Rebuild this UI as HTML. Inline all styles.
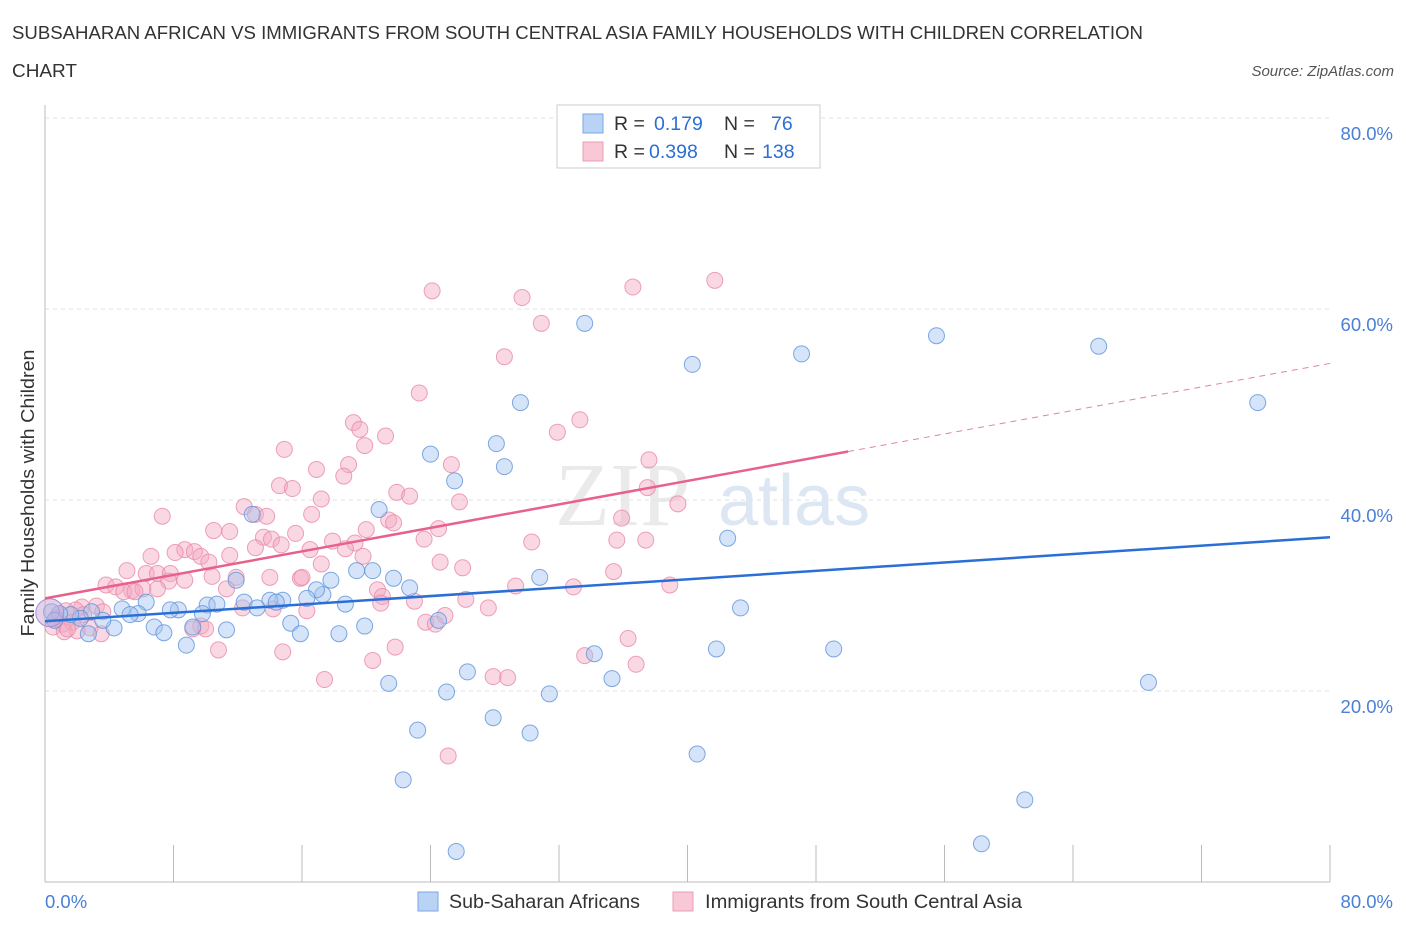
<!DOCTYPE html>
<html><head><meta charset="utf-8"><style>
body{margin:0;background:#fff;font-family:"Liberation Sans",sans-serif;}
</style></head><body>
<svg id="chart" width="1406" height="930" xmlns="http://www.w3.org/2000/svg" style="font-family:'Liberation Sans',sans-serif">
<text x="12" y="39" font-size="18.5" fill="#333" textLength="1131" lengthAdjust="spacingAndGlyphs">SUBSAHARAN AFRICAN VS IMMIGRANTS FROM SOUTH CENTRAL ASIA FAMILY HOUSEHOLDS WITH CHILDREN CORRELATION</text>
<text x="12" y="77" font-size="18.5" fill="#333" textLength="65" lengthAdjust="spacingAndGlyphs">CHART</text>
<text x="1394" y="76" font-size="15" fill="#555" font-style="italic" text-anchor="end">Source: ZipAtlas.com</text>
<text x="555" y="525" font-size="90" fill="#ddd" font-family="Liberation Serif" opacity="0.6">ZIP</text>
<text x="718" y="525" font-size="72" fill="#c7d8ee" opacity="0.6">atlas</text>
<g id="grid"></g>
<g id="pts"></g>
<g id="lines"></g>
<text transform="translate(34,493) rotate(-90)" font-size="18" fill="#333" text-anchor="middle" textLength="287" lengthAdjust="spacingAndGlyphs">Family Households with Children</text>
<text x="45" y="908" font-size="18.5" fill="#4a7fd6">0.0%</text>
<text x="1393" y="908" font-size="18.5" fill="#4a7fd6" text-anchor="end">80.0%</text>
<g>
<rect x="557" y="105" width="263" height="63" fill="#fff" stroke="#ccc"/>
<rect x="583" y="114" width="20" height="19" fill="#b9d3f5" stroke="#7aa6e6"/>
<rect x="583" y="142" width="20" height="19" fill="#f9c8d6" stroke="#ea9cb6"/>
<text x="614" y="130" font-size="19.5" fill="#333">R = </text><text x="654" y="130" font-size="19.5" fill="#2a6fd6">0.179</text>
<text x="724" y="130" font-size="19.5" fill="#333">N = </text><text x="771" y="130" font-size="19.5" fill="#2a6fd6">76</text>
<text x="614" y="158" font-size="19.5" fill="#333">R = </text><text x="649" y="158" font-size="19.5" fill="#2a6fd6">0.398</text>
<text x="724" y="158" font-size="19.5" fill="#333">N = </text><text x="762" y="158" font-size="19.5" fill="#2a6fd6">138</text>
</g>
<g>
<rect x="418" y="892" width="20" height="19" fill="#b9d3f5" stroke="#7aa6e6"/>
<text x="449" y="908" font-size="19" fill="#333" textLength="191" lengthAdjust="spacingAndGlyphs">Sub-Saharan Africans</text>
<rect x="673" y="892" width="20" height="19" fill="#f9c8d6" stroke="#ea9cb6"/>
<text x="705" y="908" font-size="19" fill="#333" textLength="317" lengthAdjust="spacingAndGlyphs">Immigrants from South Central Asia</text>
</g>
</svg>
<script>
const yTicks=[20,40,60,80];
const blueX=[33.6,55.5,65.6,47.1,40.3,75.5,29.6,28.1,24.0,28.6,25.5,20.8,12.9,42.5,30.8,22.7,21.7,20.4,19.4,17.8,17.3,16.9,16.3,14.8,14.0,14.4,11.9,12.4,13.2,18.7,10.1,10.7,9.8,8.3,7.8,6.3,4.8,5.8,5.3,6.8,7.4,4.3,3.6,2.9,2.7,2.2,1.6,0.9,0.4,0.6,9.2,11.3,15.3,15.9,18.3,19.9,24.5,43.3,8.8,34.2,41.8,49.1,68.7,35.3,26.3,21.4,25.0,31.4,23.2,27.9,30.2,40.6,22.3,61.0,58.3,25.6];
const blueY=[58.5,57.2,56.1,55.3,54.2,50.2,50.2,45.9,44.8,43.5,42.0,39.0,38.5,36.0,31.9,30.8,31.8,32.6,32.6,31.6,30.1,30.6,29.7,29.5,29.5,29.3,31.6,29.3,28.7,29.1,29.0,29.1,28.1,28.5,28.5,29.3,28.6,28.1,28.0,26.7,26.1,26.6,27.4,28.3,26.0,27.6,28.0,28.1,28.3,27.4,26.7,26.4,27.1,26.0,26.0,26.8,27.4,28.7,24.8,23.9,24.4,24.4,20.9,21.3,22.0,20.8,19.9,19.7,15.9,17.2,15.6,13.4,10.7,8.6,4.0,3.2];
const pinkX=[41.7,36.6,24.1,29.7,30.9,28.6,23.3,33.3,19.2,19.6,31.9,21.2,19.9,14.9,37.6,25.3,18.9,16.9,18.6,14.6,15.4,21.9,37.5,22.7,25.8,17.2,39.4,12.4,13.1,13.8,7.3,21.4,21.7,35.9,16.6,24.5,11.5,10.5,15.6,20.0,17.9,19.3,13.6,14.1,14.7,13.1,16.5,18.7,23.6,30.3,35.6,37.4,8.7,8.1,9.3,9.7,11.5,10.2,6.6,17.2,19.8,24.6,5.1,6.3,7.0,7.8,11.9,14.0,15.9,16.0,26.0,35.4,8.7,7.7,10.4,3.8,4.4,5.4,6.1,7.0,4.9,5.6,11.3,20.7,21.0,29.3,32.9,38.9,26.2,23.0,20.9,27.6,3.2,2.3,3.6,1.9,1.3,2.4,12.3,14.2,16.3,24.9,23.7,24.3,0.7,1.1,1.7,2.8,0.5,9.7,9.2,10.0,2.0,3.5,1.2,1.4,36.3,10.8,21.8,14.8,33.6,20.4,36.8,27.9,28.8,17.4,25.1];
const pinkY=[63.0,62.3,61.9,61.2,58.5,55.0,51.2,48.4,48.1,47.4,47.1,46.7,45.7,45.3,44.2,43.7,43.7,43.2,42.5,41.5,41.2,40.8,41.3,40.4,39.8,40.1,39.6,39.3,38.5,38.3,38.3,37.9,37.6,38.1,38.5,37.0,36.7,36.8,36.5,36.9,35.7,35.5,36.1,35.9,35.3,35.0,34.8,34.9,35.9,35.6,35.8,35.8,34.8,34.5,34.6,34.1,34.2,33.5,34.1,33.3,34.1,33.5,32.6,32.3,32.3,32.3,31.9,31.9,31.8,31.9,32.9,32.5,31.6,31.5,32.0,31.1,30.9,30.5,30.7,30.7,30.4,30.4,30.7,30.6,29.9,31.0,30.9,31.1,29.6,29.4,29.2,28.7,28.9,28.8,28.3,28.5,28.4,28.0,28.7,28.6,28.4,27.9,27.2,27.0,27.6,27.0,27.2,26.6,26.7,26.8,26.5,26.5,26.3,26.0,26.2,26.5,25.5,24.3,24.6,24.1,23.7,23.2,22.8,21.5,21.4,21.2,13.2];
const blueTrend=[27.3,36.1];
const pinkTrend=[29.7,54.3];
const NS="http://www.w3.org/2000/svg";
const X=v=>45+v*(1285/80), Y=v=>882-v*(764/80);
function mk(t,a,p){const e=document.createElementNS(NS,t);for(const k in a)e.setAttribute(k,a[k]);p.appendChild(e);return e;}
const grid=document.getElementById('grid');
yTicks.forEach(t=>{
 const l=mk('line',{x1:45,x2:1330,y1:Y(t),y2:Y(t),stroke:'#e2e2e2','stroke-dasharray':'4,4'},grid);
 
 
 const tx=mk('text',{x:1393,y:Y(t)+22,'font-size':18.5,fill:'#4a7fd6','text-anchor':'end'},grid);
 tx.textContent=t.toFixed(1)+'%';
 
 
});
mk('line',{x1:45,x2:45,y1:105,y2:882,stroke:'#bbb'},grid);
mk('line',{x1:45,x2:1330,y1:882,y2:882,stroke:'#bbb'},grid);
for(let i=0;i<=10;i++){const l=mk('line',{x1:X(i*8),x2:X(i*8),y1:845,y2:882,stroke:'#bbb'},grid);
 
 }
const pts=document.getElementById('pts');
function dots(xs,ys,fill,stroke,name){xs.forEach((x,i)=>{
 const c=mk('circle',{cx:X(x),cy:Y(ys[i]),r:8,fill:fill,'fill-opacity':0.45,stroke:stroke,'stroke-opacity':0.8,'stroke-width':1},pts);
 
 });}
dots(pinkX,pinkY,'#f4a9c0','#e889a8','pink-point');
dots(blueX,blueY,'#a2c3ef','#5f93dc','blue-point');
const big=mk('circle',{cx:X(0.3),cy:Y(28.2),r:14,fill:'#c6a8d8','fill-opacity':0.5,stroke:'#a58fd0'},pts);


const lines=document.getElementById('lines');
const bl=mk('line',{x1:X(0),y1:Y(blueTrend[0]),x2:X(80),y2:Y(blueTrend[1]),stroke:'#2a6fd6','stroke-width':2.5},lines);


const pm=pinkTrend[0]+(pinkTrend[1]-pinkTrend[0])*50/80;
const pl=mk('line',{x1:X(0),y1:Y(pinkTrend[0]),x2:X(50),y2:Y(pm),stroke:'#e8608c','stroke-width':2.5},lines);


const pd=mk('line',{x1:X(50),y1:Y(pm),x2:X(80),y2:Y(pinkTrend[1]),stroke:'#e8809f','stroke-width':1,'stroke-dasharray':'6,5'},lines);


</script>
</body></html>
